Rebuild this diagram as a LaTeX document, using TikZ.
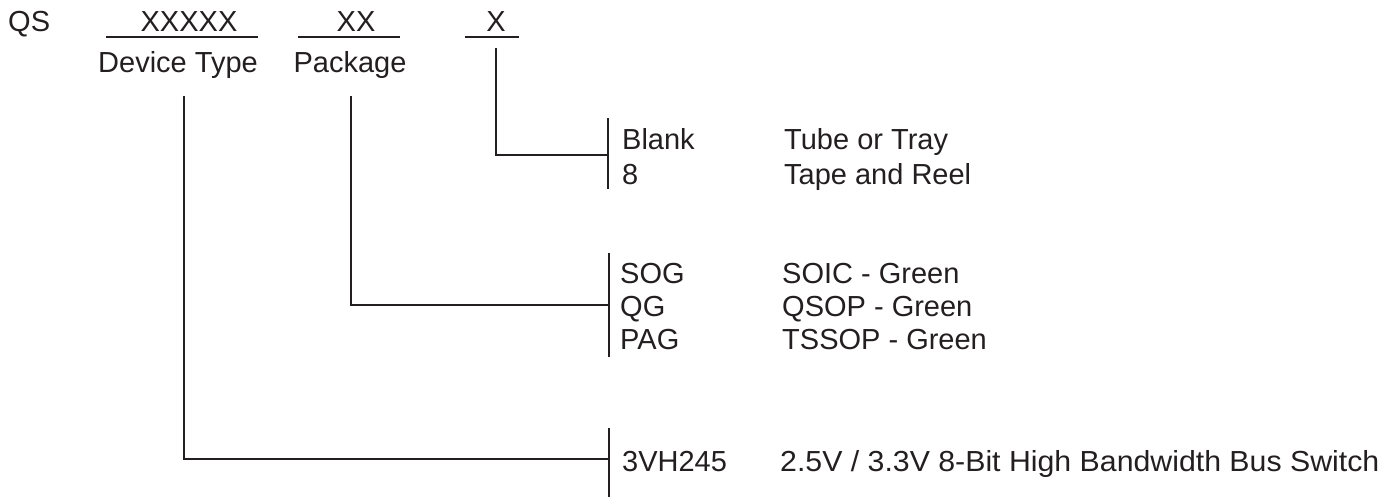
\documentclass[tikz,border=0pt]{standalone}
\usepackage{graphicx}
\usepackage{fontspec}
\setmainfont{Liberation Sans}
\definecolor{ink}{HTML}{231F20}
\begin{document}
\begin{tikzpicture}[x=1pt,y=-1pt,
  txt/.style={inner sep=0pt,anchor=base west,text=ink,font=\fontsize{29}{35}\selectfont},
  ctxt/.style={txt,anchor=base},
  ln/.style={draw=ink,line width=1.4pt},
  brk/.style={draw=ink,line width=1.4pt}]
\useasboundingbox (0,0) rectangle (1396,497);
% header
\node[txt] (qs) at (8,32) {QS};
\node[ctxt] (dev) at (189,32) {XXXXX};
\node[ctxt] (pkg) at (356,32) {XX};
\node[ctxt] (opt) at (496,32) {X};
\coordinate (u1a) at (106,37); \coordinate (u1b) at (258,37);
\coordinate (u2a) at (298,37); \coordinate (u2b) at (400,37);
\coordinate (u3a) at (465,37); \coordinate (u3b) at (519,37);
\draw[ln] (u1a) -- (u1b);
\draw[ln] (u2a) -- (u2b);
\draw[ln] (u3a) -- (u3b);
\node[ctxt] (devlbl) at (178,73) {Device Type};
\node[ctxt] (pkglbl) at (350,73) {Package};
% group 1
\node[txt] (blank) at (622,150) {Blank};
\node[txt] (eight) at (622,185) {8};
\node[txt] (tube) at (784,150) {Tube or Tray};
\node[txt] (tape) at (784,185) {Tape and Reel};
\coordinate (b1t) at (608,118); \coordinate (b1b) at (608,189);
\coordinate (b1m) at (608,155);
\coordinate (s3) at (496,48);
\draw[brk] (b1t) -- (b1b);
\draw[ln] (s3) |- (b1m);
% group 2
\node[txt] (sog) at (620,283) {SOG};
\node[txt] (qg) at (620,316) {QG};
\node[txt] (pag) at (620,349) {PAG};
\node[txt] (soic) at (782,283) {SOIC - Green};
\node[txt] (qsop) at (782,316) {QSOP - Green};
\node[txt] (tssop) at (782,349) {TSSOP - Green};
\coordinate (b2t) at (609,253); \coordinate (b2b) at (609,357);
\coordinate (b2m) at (609,305);
\coordinate (s2) at (351,96);
\draw[brk] (b2t) -- (b2b);
\draw[ln] (s2) |- (b2m);
% group 3
\node[txt] (dt) at (622,471) {3VH245};
\node[txt] (desc) at (780,471) {\scalebox{1.044}[1]{2.5V / 3.3V 8-Bit High Bandwidth Bus Switch}};
\coordinate (b3t) at (609,428); \coordinate (b3b) at (609,497);
\coordinate (b3m) at (609,459);
\coordinate (s1) at (184,96);
\draw[brk] (b3t) -- (b3b);
\draw[ln] (s1) |- (b3m);
\end{tikzpicture}
\end{document}
